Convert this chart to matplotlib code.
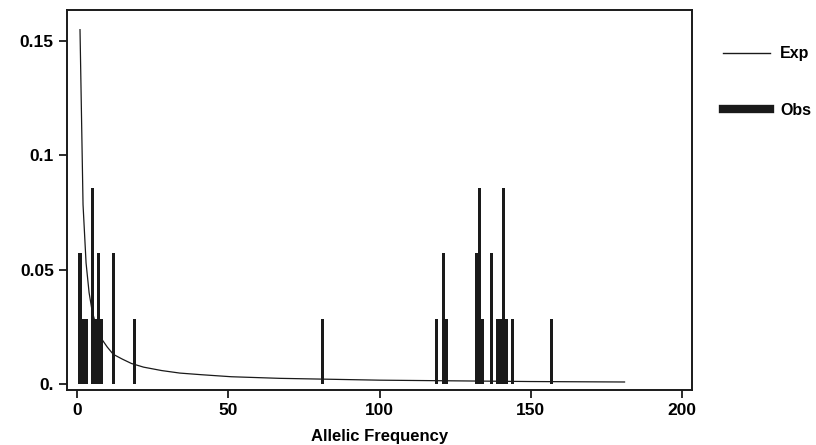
import numpy as np
import matplotlib
matplotlib.use("Agg")
import matplotlib.pyplot as plt
from matplotlib.lines import Line2D

plt.rcParams['font.family'] = ['Liberation Sans', 'DejaVu Sans']
plt.rcParams['font.weight'] = 'bold'

# observed allele counts (out of 35)
n_total = 35
obs_freq = [1, 2, 3, 5, 6, 7, 8, 12, 19, 81, 119, 121, 122,
            132, 133, 134, 137, 139, 140, 141, 142, 144, 157]
obs_count = [2, 1, 1, 3, 1, 2, 1, 2, 1, 1, 1, 2, 1,
             2, 3, 1, 2, 1, 1, 3, 1, 1, 1]

# expected curve
exp_freq = [1, 2, 3, 4, 5, 6, 7, 8, 10, 12, 15, 18, 22, 28, 34, 41,
            51, 67, 100, 150, 181]
exp_val = [0.155, 0.0785, 0.053, 0.040, 0.032, 0.027, 0.023, 0.020,
           0.0162, 0.013, 0.0109, 0.0090, 0.0074, 0.0059, 0.0048, 0.0041,
           0.0032, 0.0025, 0.0017, 0.0011, 0.0009]

obs = np.array(obs_count) / n_total

fig = plt.figure(figsize=(8.16, 4.45), dpi=100)
ax = fig.add_axes([67/816, 1-390/445, (692-67)/816, (390-10)/445])

ax.bar(obs_freq, obs, width=1.0, color='#1a1a1a', linewidth=0)
ax.plot(exp_freq, exp_val, color='#1a1a1a', lw=0.9)

ax.set_xlim(-3.3, 203.3)
ax.set_ylim(-0.0026, 0.1636)
ax.set_xticks([0, 50, 100, 150, 200])
ax.set_yticks([0, 0.05, 0.1, 0.15])
ax.set_yticklabels(['0.', '0.05', '0.1', '0.15'])
ax.tick_params(direction='out', length=6, width=1.3, labelsize=12.5, color='#1a1a1a')
for s in ax.spines.values():
    s.set_linewidth(1.4)
    s.set_color('#1a1a1a')
ax.set_xlabel('Allelic Frequency', fontsize=12, fontweight='bold', labelpad=8)

handles = [Line2D([], [], color='#1a1a1a', lw=1),
           Line2D([], [], color='#1a1a1a', lw=6)]
fig.legend(handles, ['Exp', 'Obs'], loc='upper left',
           bbox_to_anchor=(709/816, 1-32/445), frameon=False,
           fontsize=11.5, handlelength=2.9, handletextpad=0.65, labelspacing=2.6)

fig.savefig('out.png', dpi=100)
